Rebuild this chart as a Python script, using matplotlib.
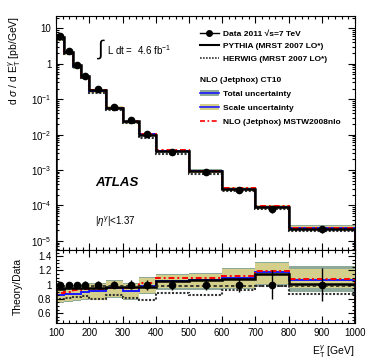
import numpy as np
import matplotlib
matplotlib.use('Agg')
import matplotlib.pyplot as plt
from matplotlib.lines import Line2D
from matplotlib.patches import Patch
from matplotlib.ticker import FixedLocator, MultipleLocator

plt.rcParams['font.family'] = ['Liberation Sans', 'DejaVu Sans']
plt.rcParams['mathtext.fontset'] = 'custom'
plt.rcParams['mathtext.rm'] = 'Liberation Sans'
plt.rcParams['mathtext.it'] = 'Liberation Sans:italic'
plt.rcParams['mathtext.bf'] = 'Liberation Sans:bold'

# bins in E_T [GeV]
edges = [100, 125, 150, 175, 200, 250, 300, 350, 400, 500, 600, 700, 800, 1000]

# measured cross section [pb/GeV]
data = [5.9, 2.25, 0.95, 0.46, 0.19, 0.06, 0.0257, 0.0103, 0.00327, 0.00089,
        0.000273, 7.9e-5, 2.2e-5]
data_err = [0.04, 0.04, 0.04, 0.05, 0.05, 0.05, 0.06, 0.07, 0.07, 0.08, 0.10, 0.20, 0.23]

# theory / data ratios
pythia = [0.94, 0.95, 0.95, 0.95, 0.95, 0.97, 0.97, 0.97, 1.05, 1.06, 1.08, 1.15, 1.01]
herwig = [0.80, 0.81, 0.83, 0.84, 0.80, 0.85, 0.81, 0.78, 0.88, 0.86, 0.92, 0.98, 0.87]
ct10 = [0.86, 0.87, 0.87, 0.90, 0.91, 0.95, 0.91, 0.98, 1.05, 1.07, 1.10, 1.18, 1.07]
mstw = [0.88, 0.90, 0.92, 0.94, 0.94, 0.96, 0.95, 1.02, 1.09, 1.09, 1.12, 1.19, 1.08]
scale_up = [0.96, 0.97, 0.97, 1.00, 1.01, 1.05, 1.01, 1.10, 1.13, 1.15, 1.22, 1.30, 1.22]
scale_dn = [0.75, 0.77, 0.78, 0.80, 0.79, 0.83, 0.80, 0.88, 0.96, 0.95, 0.96, 1.01, 0.96]
total_up = [0.97, 0.98, 0.99, 1.01, 1.02, 1.06, 1.02, 1.11, 1.15, 1.17, 1.24, 1.32, 1.27]
total_dn = [0.74, 0.76, 0.77, 0.79, 0.78, 0.82, 0.79, 0.87, 0.93, 0.93, 0.94, 0.99, 0.90]

c_total = '#8fa999'
c_scale = '#d4d08c'
c_blue = '#1a1aff'

edges = np.array(edges)
data = np.array(data)
centers = 0.5 * (edges[1:] + edges[:-1])
ones = np.ones(len(data))

fig = plt.figure(figsize=(3.74, 3.59), dpi=100)
ax = fig.add_axes([0.150, 0.304, 0.799, 0.651])
rx = fig.add_axes([0.150, 0.100, 0.799, 0.204], sharex=ax)


def draw(a, scale):
    s = np.asarray(scale)
    a.stairs(np.array(total_up) * s, edges, baseline=np.array(total_dn) * s,
             fill=True, color=c_total, lw=0)
    a.stairs(np.array(scale_up) * s, edges, baseline=np.array(scale_dn) * s,
             fill=True, color=c_scale, lw=0)
    a.stairs(np.array(ct10) * s, edges, color=c_blue, lw=1.4)
    a.stairs(np.array(mstw) * s, edges, color='red', lw=1.4, ls=(0, (3, 1.5, 1, 1.5)))
    a.stairs(np.array(herwig) * s, edges, color='#333333', lw=1.5, ls=(0, (1, 0.8)))
    a.stairs(np.array(pythia) * s, edges, color='black', lw=1.8)


# main panel
draw(ax, data)
ax.errorbar(centers, data, yerr=np.array(data_err) * data, fmt='o', color='black',
            ms=4.5, elinewidth=1, capsize=0, zorder=5)
ax.set_yscale('log')
ax.set_xlim(100, 1000)
ax.set_ylim(5.6e-6, 22)
ax.yaxis.set_major_locator(FixedLocator([1e-5, 1e-4, 1e-3, 1e-2, 1e-1, 1, 10]))
ax.set_yticklabels(['$10^{-5}$', '$10^{-4}$', '$10^{-3}$', '$10^{-2}$', '$10^{-1}$', '1', '10'])
ax.tick_params(axis='x', labelbottom=False)
ax.set_ylabel(r'd $\sigma$ / d E$_{\rm T}^{\gamma}$ [pb/GeV]', fontsize=7.5, loc='top')
ax.yaxis.set_label_coords(-0.11, 1.0)

ax.text(0.135, 0.86, r'$\int$', transform=ax.transAxes, fontsize=15, va='center')
ax.text(0.17, 0.855, r'L dt =  4.6 fb$^{-1}$', transform=ax.transAxes, fontsize=7, va='center')
ax.text(0.13, 0.285, 'ATLAS', transform=ax.transAxes, fontsize=9.5,
        fontweight='bold', style='italic', va='center')
ax.text(0.13, 0.12, r'|$\eta^{\gamma}$|<1.37', transform=ax.transAxes, fontsize=7, va='center')

# legends
h1 = [Line2D([], [], color='black', marker='o', ms=4, lw=1),
      Line2D([], [], color='black', lw=1.5),
      Line2D([], [], color='#333333', lw=1.2, ls=(0, (1, 0.8)))]
l1 = ['Data 2011 \u221as=7 TeV', 'PYTHIA (MRST 2007 LO*)', 'HERWIG (MRST 2007 LO*)']
leg1 = ax.legend(h1, l1, loc='upper left', bbox_to_anchor=(0.47, 0.955), frameon=False,
                 handlelength=2.3, handletextpad=0.5, labelspacing=0.55,
                 borderaxespad=0, prop={'weight': 'bold', 'size': 6})
ax.add_artist(leg1)
h2 = [(Patch(color=c_total, lw=0), Line2D([], [], color=c_blue, lw=1.2)),
      (Patch(color=c_scale, lw=0), Line2D([], [], color=c_blue, lw=1.2)),
      Line2D([], [], color='red', lw=1.2, ls=(0, (3, 1.5, 1, 1.5)))]
l2 = ['Total uncertainty', 'Scale uncertainty', 'NLO (Jetphox) MSTW2008nlo']
leg2 = ax.legend(h2, l2, loc='upper left', bbox_to_anchor=(0.47, 0.755), frameon=False,
                 handlelength=2.3, handletextpad=0.5, labelspacing=0.75,
                 borderaxespad=0, prop={'weight': 'bold', 'size': 6},
                 title='NLO (Jetphox) CT10', alignment='left',
                 title_fontproperties={'weight': 'bold', 'size': 6})

# ratio panel
draw(rx, ones)
rx.stairs(ones * 0.985, edges, color='#222222', lw=1.2, ls=(0, (2, 1.5)))
rx.errorbar(centers, ones, yerr=data_err, fmt='o', color='black', ms=4.5,
            elinewidth=1, capsize=0, zorder=5)
rx.set_ylim(0.46, 1.49)
rx.yaxis.set_major_locator(FixedLocator([0.6, 0.8, 1.0, 1.2, 1.4]))
rx.set_yticklabels(['0.6', '0.8', '1', '1.2', '1.4'])
rx.yaxis.set_minor_locator(MultipleLocator(0.05))
rx.xaxis.set_major_locator(MultipleLocator(100))
rx.xaxis.set_minor_locator(MultipleLocator(20))
rx.set_ylabel('Theory/Data', fontsize=7.5)
rx.yaxis.set_label_coords(-0.11, 0.5)
rx.set_xlabel(r'E$_{\rm T}^{\gamma}$ [GeV]', fontsize=7.5, loc='right')

for a in (ax, rx):
    a.tick_params(which='both', direction='in', top=True, right=True, labelsize=7, width=0.8)
    a.tick_params(which='major', length=5)
    a.tick_params(which='minor', length=2.5)
    for s in a.spines.values():
        s.set_linewidth(0.8)

fig.savefig('out.png', dpi=100)
